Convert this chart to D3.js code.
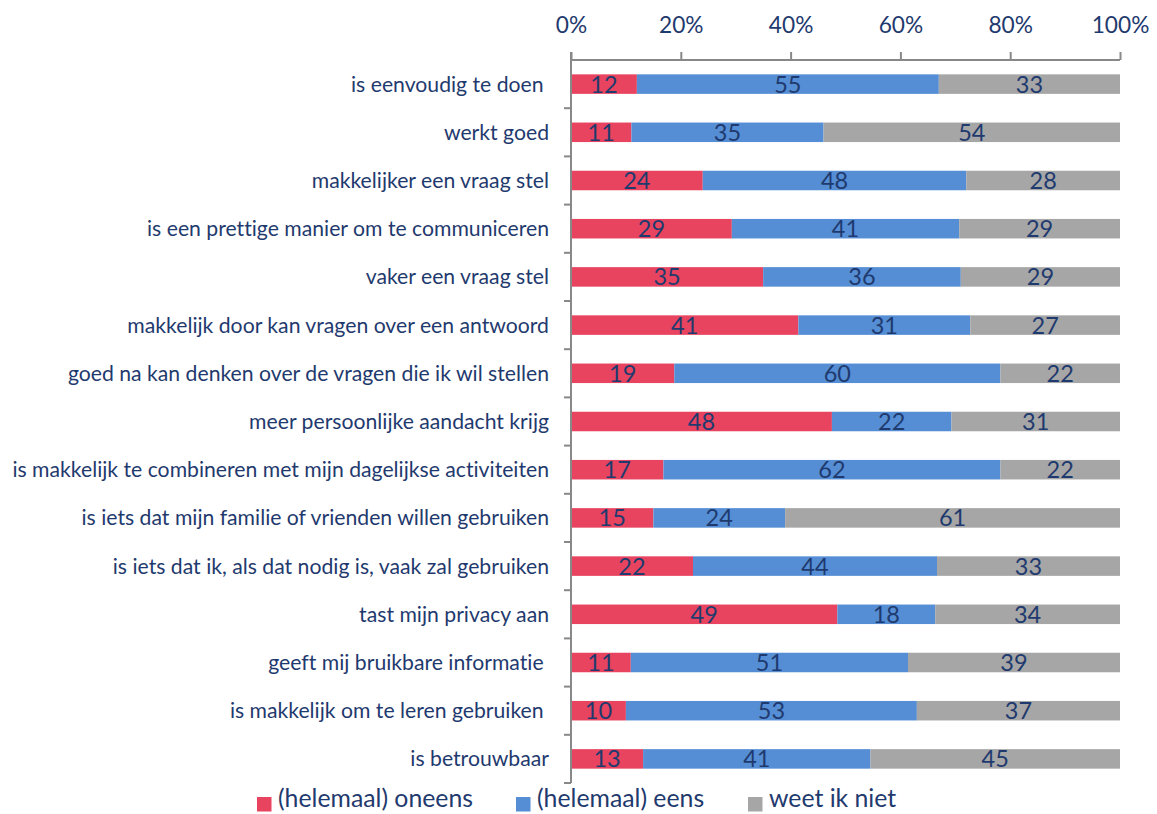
<!DOCTYPE html>
<html><head><meta charset="utf-8">
<script src="https://cdn.jsdelivr.net/npm/d3@7"></script>
<style>
body{margin:0;background:#fff;}
svg text{font-family:Lato,"Open Sans",sans-serif;white-space:pre;font-variant-ligatures:none;font-feature-settings:"liga" 0,"clig" 0,"dlig" 0,"calt" 0;}
</style></head>
<body><svg id="chart" width="1157" height="814"></svg>
<script>
const categories = [
  "is eenvoudig te doen ",
  "werkt goed",
  "makkelijker een vraag stel",
  "is een prettige manier om te communiceren",
  "vaker een vraag stel",
  "makkelijk door kan vragen over een antwoord",
  "goed na kan denken over de vragen die ik wil stellen",
  "meer persoonlijke aandacht krijg",
  "is makkelijk te combineren met mijn dagelijkse activiteiten",
  "is iets dat mijn familie of vrienden willen gebruiken",
  "is iets dat ik, als dat nodig is, vaak zal gebruiken",
  "tast mijn privacy aan",
  "geeft mij bruikbare informatie ",
  "is makkelijk om te leren gebruiken ",
  "is betrouwbaar"
];
const oneens = [12,11,24,29,35,41,19,48,17,15,22,49,11,10,13];
const eens   = [55,35,48,41,36,31,60,22,62,24,44,18,51,53,41];
const weetNiet = [33,54,28,29,29,27,22,31,22,61,33,34,39,37,45];
const seriesNames = ["(helemaal) oneens","(helemaal) eens","weet ik niet"];
const tickValues = [0,0.2,0.4,0.6,0.8,1];
const colors = ["#E8445F","#558ED5","#A6A6A6"];
const textColor = "#1F3A6E";

(function(){
const svg = d3.select("#chart");
const L = 571, R = 1120, T = 60, B = 783;
const x = d3.scaleLinear().domain([0,1]).range([L,R]);
const y = d3.scaleBand().domain(categories).range([T,B]).paddingInner(0.595).paddingOuter(0.2975);

const rows = categories.map((c,i)=>({cat:c, vals:[oneens[i],eens[i],weetNiet[i]]}));
const stackData = rows.map(r=>{
  const s = d3.sum(r.vals); let acc=0;
  return r.vals.map((v,k)=>{const x0=acc/s; acc+=v; return {cat:r.cat,k,v,x0,x1:acc/s};});
});

const g = svg.append("g");
stackData.forEach(segs=>{
  g.selectAll(null).data(segs).enter().append("rect")
    .attr("x",d=>x(d.x0)).attr("width",d=>x(d.x1)-x(d.x0))
    .attr("y",d=>y(d.cat)).attr("height",y.bandwidth())
    .attr("fill",d=>colors[d.k]);
  g.selectAll(null).data(segs).enter().append("text")
    .attr("x",d=>(x(d.x0)+x(d.x1))/2).attr("y",d=>y(d.cat)+y.bandwidth()/2)
    .attr("dy","0.36em").attr("text-anchor","middle")
    .attr("font-size",23.5).attr("fill",textColor).text(d=>d.v);
});

const axColor = "#888";
const xAxis = svg.append("g").attr("transform",`translate(0,${T})`)
  .call(d3.axisTop(x).tickValues(tickValues).tickFormat(d3.format(".0%")).tickSize(8).tickPadding(19));
xAxis.select(".domain").attr("stroke",axColor).attr("stroke-width",2).attr("d",`M${L},0H${R}`);
xAxis.selectAll(".tick line").attr("stroke",axColor).attr("stroke-width",2);
xAxis.selectAll(".tick text").attr("font-size",22.7).attr("fill",textColor).attr("font-family","Lato");

const yAx = svg.append("g");
yAx.append("line").attr("x1",L).attr("x2",L).attr("y1",T-8).attr("y2",B)
  .attr("stroke",axColor).attr("stroke-width",2);
const bounds = d3.range(categories.length+1).map(i=>T + i*(B-T)/categories.length);
yAx.selectAll(null).data(bounds.slice(1)).enter().append("line")
  .attr("x1",L-7).attr("x2",L).attr("y1",d=>d).attr("y2",d=>d)
  .attr("stroke",axColor).attr("stroke-width",2);
yAx.selectAll(null).data(categories).enter().append("text")
  .attr("x",549).attr("y",d=>y(d)+y.bandwidth()/2).attr("dy","0.35em")
  .attr("text-anchor","end").attr("font-size",21.2).attr("fill",textColor).text(d=>d);

const legendX = [257,516,748];
const lg = svg.append("g");
seriesNames.forEach((n,i)=>{
  lg.append("rect").attr("x",legendX[i]).attr("y",797).attr("width",14.5).attr("height",14.5).attr("fill",colors[i]);
  lg.append("text").attr("x",legendX[i]+21).attr("y",807)
    .attr("font-size",24.8).attr("fill",textColor).text(n);
});
})();
</script></body></html>
